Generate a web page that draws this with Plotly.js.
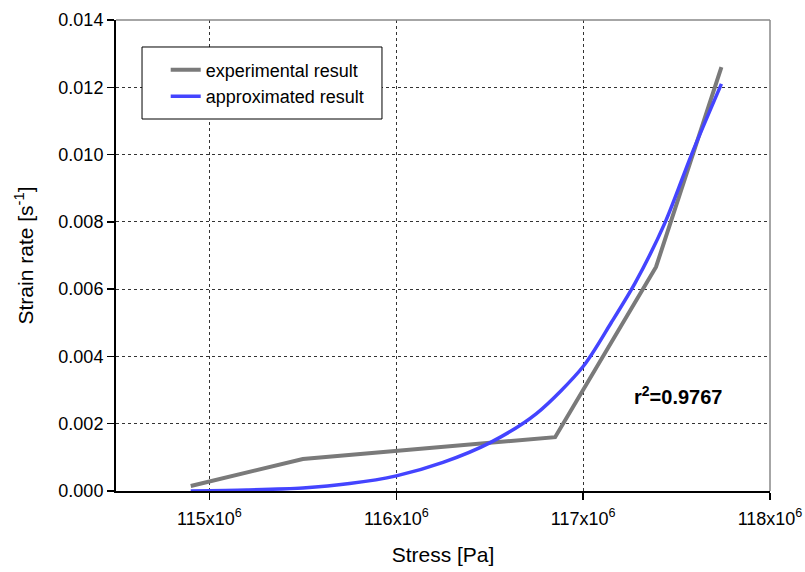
<!DOCTYPE html>
<html>
<head>
<meta charset="utf-8">
<script src="https://cdn.plot.ly/plotly-3.0.1.min.js"></script>
<style>html,body{margin:0;padding:0;background:#fff;}#chart{width:805px;height:572px;}</style>
</head>
<body>
<div id="chart"></div>
<script>
// Experimental data (stress in Pa, strain rate in 1/s)
const expStress = [114.9e6, 115.5e6, 116.85e6, 117.39e6, 117.74e6];
const expRate   = [0.00015, 0.00095, 0.0016, 0.00666, 0.0126];

// Approximated curve
const fitStress = [114.9e6, 115.2e6, 115.5e6, 115.75e6, 116.0e6, 116.25e6, 116.5e6, 116.75e6, 117.0e6, 117.15e6, 117.28e6, 117.44e6, 117.58e6, 117.74e6];
const fitRate   = [0.0, 0.00003, 0.00009, 0.00022, 0.00045, 0.00085, 0.00143, 0.0023, 0.0037, 0.0050, 0.0062, 0.0080, 0.0100, 0.0121];

const xTickVals = [115e6, 116e6, 117e6, 118e6];
const xTickText = ['115x10<sup>6</sup>', '116x10<sup>6</sup>', '117x10<sup>6</sup>', '118x10<sup>6</sup>'];
const yTickVals = [0, 0.002, 0.004, 0.006, 0.008, 0.010, 0.012, 0.014];
const yTickText = ['0.000', '0.002', '0.004', '0.006', '0.008', '0.010', '0.012', '0.014'];

const traces = [
  {x: expStress, y: expRate, type: 'scatter', mode: 'lines', name: 'experimental result',
   line: {color: '#7a7a7a', width: 4}},
  {x: fitStress, y: fitRate, type: 'scatter', mode: 'lines', name: 'approximated result',
   line: {color: '#4444ff', width: 3.5, shape: 'spline', smoothing: 0.8}}
];

const font = {family: 'Liberation Sans, Arial, sans-serif', color: '#000'};

const layout = {
  width: 805, height: 572,
  margin: {l: 116, r: 35, t: 20, b: 81},
  paper_bgcolor: '#fff', plot_bgcolor: '#fff',
  font: Object.assign({size: 18}, font),
  showlegend: true,
  legend: {x: 0.076, y: 0.933, xanchor: 'left', yanchor: 'top', bgcolor: 'rgba(0,0,0,0)',
           borderwidth: 0, font: Object.assign({size: 18}, font),
           tracegroupgap: 0, itemwidth: 30},
  xaxis: {range: [114.5e6, 118e6], tickvals: xTickVals, ticktext: xTickText,
          showline: true, linecolor: '#000', linewidth: 2, mirror: false,
          ticks: 'outside', ticklen: 7, tickcolor: '#000', tickwidth: 1.5,
          showgrid: true, gridcolor: '#333', griddash: 'dot', gridwidth: 1,
          zeroline: false, tickfont: Object.assign({size: 18}, font), ticklabelstandoff: 3,
          title: {text: 'Stress [Pa]', font: Object.assign({size: 21}, font), standoff: 20}},
  yaxis: {range: [0, 0.014], tickvals: yTickVals, ticktext: yTickText,
          showline: true, linecolor: '#000', linewidth: 2, mirror: false,
          ticks: 'outside', ticklen: 7, tickcolor: '#000', tickwidth: 1.5,
          showgrid: true, gridcolor: '#333', griddash: 'dot', gridwidth: 1,
          zeroline: false, tickfont: Object.assign({size: 18}, font),
          title: {text: 'Strain rate [s<sup>-1</sup>]', font: Object.assign({size: 21}, font), standoff: 19}},
  shapes: [
    {type: 'line', xref: 'paper', yref: 'paper', x0: 0, x1: 1, y0: 1, y1: 1, line: {color: '#888', width: 1.5}},
    {type: 'line', xref: 'paper', yref: 'paper', x0: 1, x1: 1, y0: 0, y1: 1, line: {color: '#888', width: 1.5}},
    {type: 'rect', xref: 'paper', yref: 'paper', x0: 0.0398, x1: 0.4067, y0: 0.7898, y1: 0.9427,
     fillcolor: '#fff', line: {color: '#000', width: 1}, layer: 'above'}
  ],
  annotations: [
    {x: 117.51e6, y: 0.00285, xref: 'x', yref: 'y', text: '<b>r<sup>2</sup>=0.9767</b>', showarrow: false,
     font: Object.assign({size: 20}, font)}
  ]
};

Plotly.newPlot('chart', traces, layout, {displayModeBar: false, staticPlot: true});
</script>
</body>
</html>
